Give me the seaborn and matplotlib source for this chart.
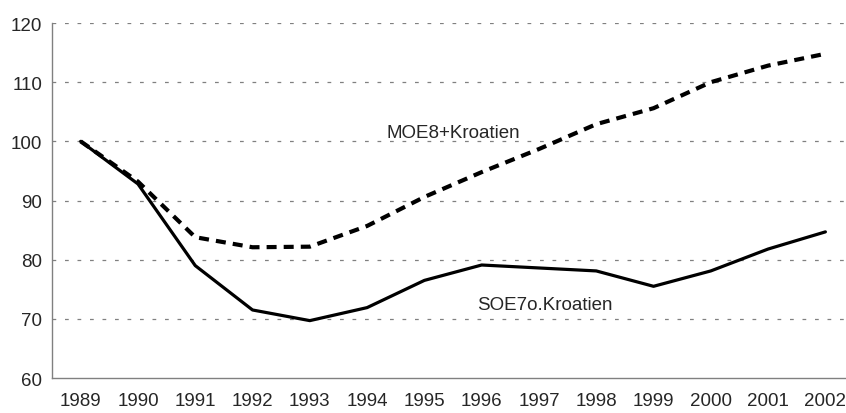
import matplotlib
matplotlib.use("Agg")
import matplotlib.pyplot as plt
from matplotlib import font_manager
import seaborn as sns
import pandas as pd

years = list(range(1989, 2003))
moe8 = [100.0, 93.2, 83.8, 82.1, 82.2, 85.7, 90.6, 94.8, 98.7, 102.9, 105.6, 110.0, 112.8, 114.8]
soe7 = [100.0, 92.8, 79.0, 71.5, 69.7, 71.9, 76.5, 79.1, 78.6, 78.1, 75.5, 78.1, 81.8, 84.7]
labels = ["MOE8+Kroatien", "SOE7o.Kroatien"]

sns.set_style("white")
names = {f.name for f in font_manager.fontManager.ttflist}
fam = "Liberation Sans Narrow" if "Liberation Sans Narrow" in names else "Liberation Sans"
plt.rcParams["font.family"] = [fam, "DejaVu Sans"]

df = pd.DataFrame({"year": years, "moe": moe8, "soe": soe7})

fig = plt.figure(figsize=(8.46, 4.14), dpi=100)
ax = fig.add_axes([0.0615, 0.0845, 0.948, 0.8575])

sns.lineplot(data=df, x="year", y="soe", ax=ax, color="black", linewidth=2.3)
sns.lineplot(data=df, x="year", y="moe", ax=ax, color="black", linewidth=3.0)
ax.lines[-1].set_dashes((2.4, 1.7))

ax.set_xlim(1988.5, 2002.5)
ax.set_ylim(60, 120)
ax.set_yticks(range(60, 121, 10))
ax.set_xticks(years)
ax.set_xticks([y - 0.5 for y in years] + [2002.5], minor=True)
ax.tick_params(axis="x", which="major", length=0, pad=10, labelsize=13.5)
ax.tick_params(axis="x", which="minor", length=5, width=1, color="#808080", direction="out")
ax.tick_params(axis="y", length=5, width=1, color="#808080", direction="out", pad=2, labelsize=13.5)
ax.set_xlabel("")
ax.set_ylabel("")

for v in range(70, 121, 10):
    ax.axhline(v, color="#808080", linewidth=0.9, linestyle=(0, (3, 7)), zorder=0)

for s in ["top", "right"]:
    ax.spines[s].set_visible(False)
for s in ["left", "bottom"]:
    ax.spines[s].set_color("#808080")
    ax.spines[s].set_linewidth(1)

ax.text(1995.5, 100.7, labels[0], ha="center", va="baseline", fontsize=13.5)
ax.text(1997.1, 71.7, labels[1], ha="center", va="baseline", fontsize=13.5)

fig.savefig("out.png", dpi=100)
